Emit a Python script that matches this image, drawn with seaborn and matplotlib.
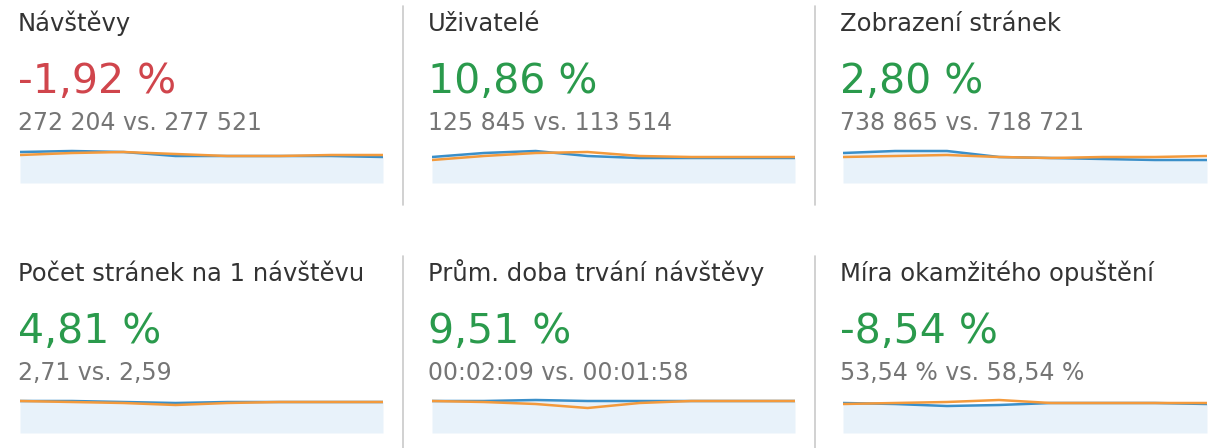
import matplotlib
matplotlib.use("Agg")
import matplotlib.pyplot as plt
import seaborn as sns
import numpy as np
import pandas as pd
from matplotlib.lines import Line2D

sns.set_theme(style="white")
plt.rcParams['font.family'] = ['DejaVu Sans']

# ---- data ----
titles = ["Návštěvy", "Uživatelé", "Zobrazení stránek",
          "Počet stránek na 1 návštěvu", "Prům. doba trvání návštěvy", "Míra okamžitého opuštění"]
changes = ["-1,92 %", "10,86 %", "2,80 %", "4,81 %", "9,51 %", "-8,54 %"]
change_good = [False, True, True, True, True, True]
comparisons = ["272 204 vs. 277 521", "125 845 vs. 113 514", "738 865 vs. 718 721",
               "2,71 vs. 2,59", "00:02:09 vs. 00:01:58", "53,54 % vs. 58,54 %"]

periods = [1, 2, 3, 4, 5, 6, 7, 8]
current_1 = [31, 32, 31, 27, 27, 27, 27, 26]
previous_1 = [28, 30, 31, 29, 27, 27, 28, 28]
current_2 = [26, 30, 32, 27, 25, 25, 25, 25]
previous_2 = [23, 27, 30, 31, 27, 26, 26, 26]
current_3 = [30, 32, 32, 26, 25, 24, 23, 23]
previous_3 = [26, 27, 28, 26, 25, 26, 26, 27]
current_4 = [32, 32, 31, 30, 31, 31, 31, 31]
previous_4 = [32, 31, 30, 28, 30, 31, 31, 31]
current_5 = [32, 32, 33, 32, 32, 32, 32, 32]
previous_5 = [32, 31, 29, 25, 30, 32, 32, 32]
current_6 = [30, 29, 27, 28, 30, 30, 30, 29]
previous_6 = [29, 30, 31, 33, 30, 30, 30, 30]

currents = [current_1, current_2, current_3, current_4, current_5, current_6]
previouses = [previous_1, previous_2, previous_3, previous_4, previous_5, previous_6]

# ---- style ----
W, H = 1209, 448
TITLE_C = "#333333"
SUB_C = "#757575"
RED = "#d0454c"
GREEN = "#2a9a4c"
BLUE = "#3a8fc9"
ORANGE = "#f39a3c"
FILL = "#e8f2fa"

fig = plt.figure(figsize=(W / 100, H / 100), dpi=100)
fig.patch.set_facecolor("white")

def fy(y):
    return 1 - y / H

text_x = [18, 428, 840]
spark_x = [(20, 383), (432, 795), (843, 1207)]
row_off = [0, 250]

for i in range(6):
    r, c = divmod(i, 3)
    off = row_off[r]
    tx = text_x[c]
    fig.text(tx / W, fy(31 + off), titles[i], fontsize=17.5, color=TITLE_C, va="baseline", ha="left")
    fig.text(tx / W, fy(93 + off), changes[i], fontsize=29.5, color=GREEN if change_good[i] else RED,
             va="baseline", ha="left")
    fig.text(tx / W, fy(130 + off), comparisons[i], fontsize=17, color=SUB_C, va="baseline", ha="left")

    x0, x1 = spark_x[c]
    ybot = 183 + off
    ytop = ybot - 35
    ax = fig.add_axes([x0 / W, fy(ybot), (x1 - x0) / W, (ybot - ytop) / H])
    df = pd.DataFrame({"period": periods, "current": currents[i], "previous": previouses[i]})
    ax.fill_between(df["period"], 0, df["current"], color=FILL, linewidth=0)
    sns.lineplot(data=df, x="period", y="current", ax=ax, color=BLUE, linewidth=1.8)
    sns.lineplot(data=df, x="period", y="previous", ax=ax, color=ORANGE, linewidth=1.8)
    ax.set_xlim(periods[0], periods[-1])
    ax.set_ylim(0, 35)
    ax.axis("off")

# dividers
for xd in [403, 815]:
    fig.add_artist(Line2D([xd / W, xd / W], [fy(6), fy(205)], color="#c9c9c9", linewidth=1.2))
    fig.add_artist(Line2D([xd / W, xd / W], [fy(256), fy(448)], color="#c9c9c9", linewidth=1.2))

fig.savefig("out.png", dpi=100, facecolor="white")
